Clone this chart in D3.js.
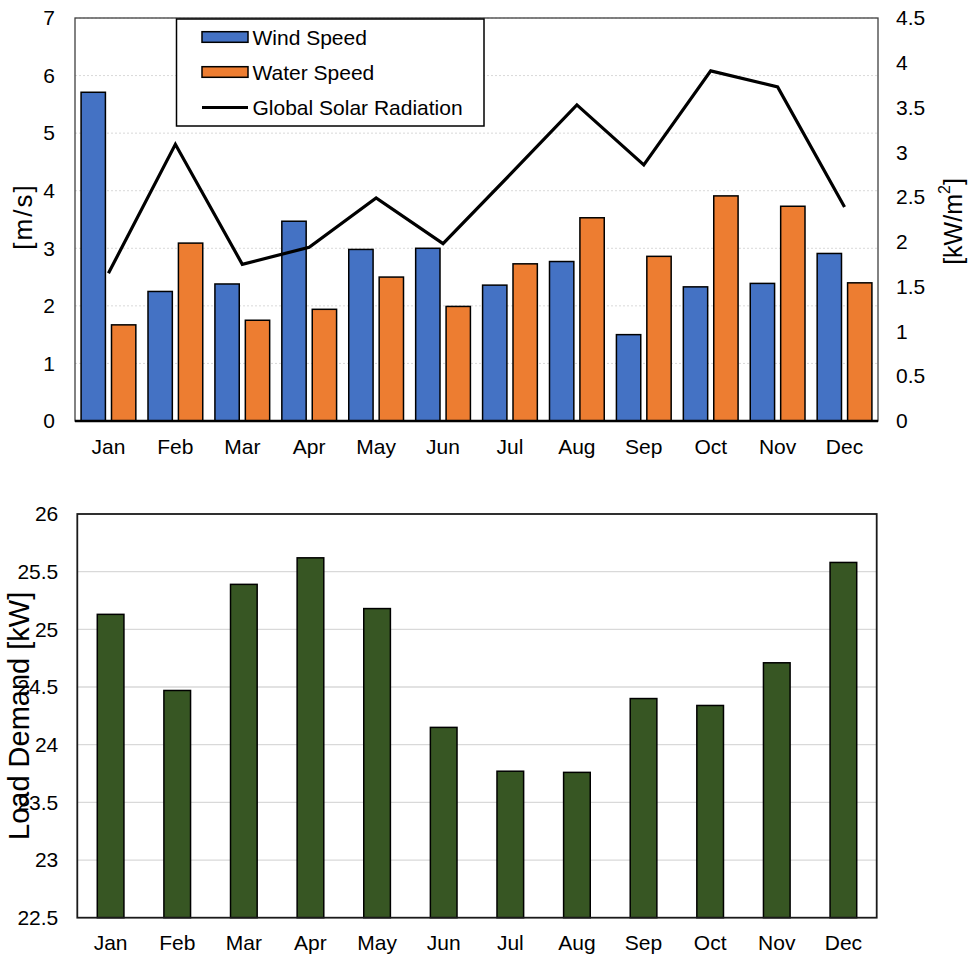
<!DOCTYPE html>
<html>
<head>
<meta charset="utf-8">
<script src="https://cdn.jsdelivr.net/npm/d3@7"></script>
<style>
  html, body { margin: 0; padding: 0; background: #fff; }
  svg { display: block; font-family: "Liberation Sans", Arial, sans-serif; }
</style>
</head>
<body>
<svg id="chart" width="969" height="959"></svg>
<script>
// Monthly resource data
const months = ["Jan", "Feb", "Mar", "Apr", "May", "Jun", "Jul", "Aug", "Sep", "Oct", "Nov", "Dec"];
const windSpeed = [5.71, 2.25, 2.38, 3.47, 2.98, 3.00, 2.36, 2.77, 1.50, 2.33, 2.39, 2.91];
const waterSpeed = [1.67, 3.09, 1.75, 1.94, 2.50, 1.99, 2.73, 3.53, 2.86, 3.91, 3.73, 2.40];
const solarRadiation = [1.65, 3.09, 1.75, 1.94, 2.49, 1.98, 2.75, 3.53, 2.86, 3.91, 3.73, 2.39];
const loadDemand = [25.13, 24.47, 25.39, 25.62, 25.18, 24.15, 23.77, 23.76, 24.40, 24.34, 24.71, 25.58];

const speedTicks = [0, 1, 2, 3, 4, 5, 6, 7];
const solarTicks = [0, 0.5, 1, 1.5, 2, 2.5, 3, 3.5, 4, 4.5];
const loadTicks = [22.5, 23, 23.5, 24, 24.5, 25, 25.5, 26];

const seriesNames = ["Wind Speed", "Water Speed", "Global Solar Radiation"];
const colors = { wind: "#4472C4", water: "#ED7D31", load: "#375623" };

const svg = d3.select("#chart");
const fontSize = 21;

// ---------- Top chart: wind / water speed bars + solar radiation line ----------
const upper = { left: 75, right: 878, top: 18, bottom: 421 };

const x0 = d3.scaleBand().domain(months).range([upper.left, upper.right]).padding(0);
const x1 = d3.scaleBand().domain(["wind", "water"]).range([0, x0.bandwidth()])
  .paddingInner(0.2).paddingOuter(0.2);
const yL = d3.scaleLinear().domain([0, 7]).range([upper.bottom, upper.top]);
const yR = d3.scaleLinear().domain([0, 4.5]).range([upper.bottom, upper.top]);

const g1 = svg.append("g");

// gridlines
g1.append("g").selectAll("line").data(speedTicks.slice(1)).join("line")
  .attr("x1", upper.left).attr("x2", upper.right)
  .attr("y1", d => yL(d)).attr("y2", d => yL(d))
  .attr("stroke", "#d9d9d9").attr("stroke-width", 1).attr("stroke-dasharray", "2,2");

// plot frame
g1.append("rect")
  .attr("x", upper.left).attr("y", upper.top)
  .attr("width", upper.right - upper.left).attr("height", upper.bottom - upper.top)
  .attr("fill", "none").attr("stroke", "#404040").attr("stroke-width", 1.3);

// bars
const groups = g1.append("g").selectAll("g").data(months).join("g")
  .attr("transform", d => `translate(${x0(d)},0)`);
groups.append("rect")
  .attr("x", x1("wind")).attr("width", x1.bandwidth())
  .attr("y", (d, i) => yL(windSpeed[i]))
  .attr("height", (d, i) => yL(0) - yL(windSpeed[i]))
  .attr("fill", colors.wind).attr("stroke", "#000").attr("stroke-width", 1.5);
groups.append("rect")
  .attr("x", x1("water")).attr("width", x1.bandwidth())
  .attr("y", (d, i) => yL(waterSpeed[i]))
  .attr("height", (d, i) => yL(0) - yL(waterSpeed[i]))
  .attr("fill", colors.water).attr("stroke", "#000").attr("stroke-width", 1.5);

// x axis baseline
g1.append("line")
  .attr("x1", upper.left).attr("x2", upper.right)
  .attr("y1", yL(0)).attr("y2", yL(0))
  .attr("stroke", "#000").attr("stroke-width", 2.5);

// solar radiation line
const line = d3.line()
  .x((d, i) => x0(months[i]) + x0.bandwidth() / 2)
  .y(d => yR(d));
g1.append("path").datum(solarRadiation)
  .attr("d", line).attr("fill", "none")
  .attr("stroke", "#000").attr("stroke-width", 3.2).attr("stroke-linejoin", "miter");

// axes
const axL = g1.append("g").attr("transform", `translate(${upper.left},0)`)
  .call(d3.axisLeft(yL).tickValues(speedTicks).tickSize(0).tickPadding(20).tickFormat(d3.format("~g")));
const axR = g1.append("g").attr("transform", `translate(${upper.right},0)`)
  .call(d3.axisRight(yR).tickValues(solarTicks).tickSize(0).tickPadding(18).tickFormat(d3.format("~g")));
const axB = g1.append("g").attr("transform", `translate(0,${upper.bottom})`)
  .call(d3.axisBottom(x0).tickSize(0).tickPadding(18));
[axL, axR, axB].forEach(a => {
  a.select(".domain").remove();
  a.selectAll("text").attr("font-size", fontSize).attr("fill", "#000")
    .attr("font-family", "Liberation Sans, Arial, sans-serif");
});

// axis titles
g1.append("text")
  .attr("transform", `translate(23,${(upper.top + upper.bottom) / 2 - 3}) rotate(-90)`)
  .attr("text-anchor", "middle").attr("dominant-baseline", "central")
  .attr("font-size", 26).attr("letter-spacing", 2).text("[m/s]");
const rt = g1.append("text")
  .attr("transform", `translate(953,${(upper.top + upper.bottom) / 2 + 2}) rotate(-90)`)
  .attr("text-anchor", "middle").attr("dominant-baseline", "central")
  .attr("font-size", 25);
rt.append("tspan").text("[kW/m");
rt.append("tspan").attr("font-size", 16).attr("dy", -9).text("2");
rt.append("tspan").attr("dy", 9).text("]");

// legend
const lg = g1.append("g");
lg.append("rect").attr("x", 176.5).attr("y", 19).attr("width", 307.5).attr("height", 107)
  .attr("fill", "#fff").attr("stroke", "#000").attr("stroke-width", 1.5);
const legendRows = [
  { name: seriesNames[0], type: "bar", color: colors.wind, cy: 37 },
  { name: seriesNames[1], type: "bar", color: colors.water, cy: 72 },
  { name: seriesNames[2], type: "line", color: "#000", cy: 107.5 }
];
legendRows.forEach(r => {
  if (r.type === "bar") {
    lg.append("rect").attr("x", 202).attr("y", r.cy - 5.3).attr("width", 46).attr("height", 10.6)
      .attr("fill", r.color).attr("stroke", "#000").attr("stroke-width", 1.5);
  } else {
    lg.append("line").attr("x1", 202).attr("x2", 248).attr("y1", r.cy).attr("y2", r.cy)
      .attr("stroke", "#000").attr("stroke-width", 3.2);
  }
  lg.append("text").attr("x", 252.5).attr("y", r.cy).attr("dominant-baseline", "central")
    .attr("font-size", fontSize).attr("fill", "#000").text(r.name);
});

// ---------- Bottom chart: load demand ----------
const lower = { left: 77.3, right: 876.7, top: 514, bottom: 917.7 };
const xb = d3.scaleBand().domain(months).range([lower.left, lower.right])
  .paddingInner(0.6).paddingOuter(0.3);
const yb = d3.scaleLinear().domain([22.5, 26]).range([lower.bottom, lower.top]);

const g2 = svg.append("g");
g2.append("g").selectAll("line").data(loadTicks.slice(1, -1)).join("line")
  .attr("x1", lower.left).attr("x2", lower.right)
  .attr("y1", d => yb(d)).attr("y2", d => yb(d))
  .attr("stroke", "#d9d9d9").attr("stroke-width", 1.3);

g2.append("g").selectAll("rect").data(loadDemand).join("rect")
  .attr("x", (d, i) => xb(months[i])).attr("width", xb.bandwidth())
  .attr("y", d => yb(d)).attr("height", d => yb(22.5) - yb(d))
  .attr("fill", colors.load).attr("stroke", "#000").attr("stroke-width", 1.5);

g2.append("rect")
  .attr("x", lower.left).attr("y", lower.top)
  .attr("width", lower.right - lower.left).attr("height", lower.bottom - lower.top)
  .attr("fill", "none").attr("stroke", "#1a1a1a").attr("stroke-width", 1.8);

const bL = g2.append("g").attr("transform", `translate(${lower.left},0)`)
  .call(d3.axisLeft(yb).tickValues(loadTicks).tickSize(0).tickPadding(19).tickFormat(d3.format("~g")));
const bB = g2.append("g").attr("transform", `translate(0,${lower.bottom})`)
  .call(d3.axisBottom(xb).tickSize(0).tickPadding(17.5));
[bL, bB].forEach(a => {
  a.select(".domain").remove();
  a.selectAll("text").attr("font-size", fontSize).attr("fill", "#000")
    .attr("font-family", "Liberation Sans, Arial, sans-serif");
});

g2.append("text")
  .attr("transform", `translate(19,${(lower.top + lower.bottom) / 2}) rotate(-90)`)
  .attr("text-anchor", "middle").attr("dominant-baseline", "central")
  .attr("font-size", 29).text("Load Demand [kW]");
</script>
</body>
</html>
